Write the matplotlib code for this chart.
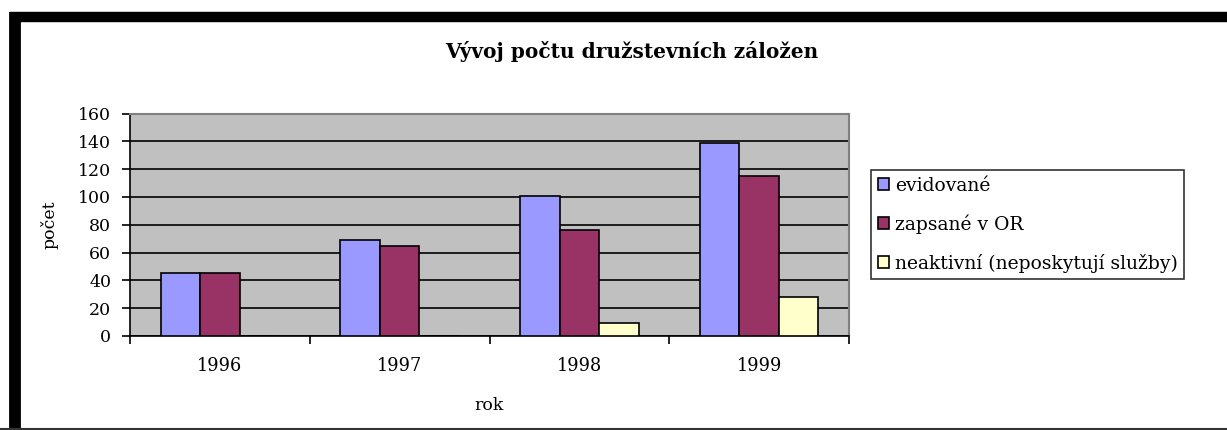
import matplotlib.pyplot as plt
import numpy as np
from matplotlib.lines import Line2D

roky = ['1996', '1997', '1998', '1999']
evidovane = [45, 69, 101, 139]
zapsane = [45, 65, 76, 115]
neaktivni = [0, 0, 9, 28]

plt.rcParams['font.family'] = ['DejaVu Serif']

fig = plt.figure(figsize=(12.27, 4.30), dpi=100)
ax = fig.add_axes([130 / 1227, 1 - 336 / 430, 719 / 1227, (336 - 113.5) / 430])
ax.set_facecolor('#C0C0C0')

x = np.arange(len(roky))
w = 0.22
serie = [(evidovane, '#9999FF', 'evidované'),
         (zapsane, '#993366', 'zapsané v OR'),
         (neaktivni, '#FFFFCC', 'neaktivní (neposkytují služby)')]
for i, (vals, barva, nazev) in enumerate(serie):
    ax.bar(x + (i - 1) * w, vals, w, color=barva, edgecolor='black',
           linewidth=1.2, label=nazev, zorder=3)

ax.set_xlim(-0.5, 3.5)
ax.set_ylim(0, 160)
ax.set_yticks(range(0, 161, 20))
ax.yaxis.grid(True, color='black', linewidth=1.2, zorder=1)
ax.set_axisbelow(True)

ax.set_xticks(x)
ax.set_xticklabels(roky, fontsize=12.8)
ax.tick_params(axis='x', length=0, pad=15)
ax.set_xticks(np.arange(-0.5, 4, 1), minor=True)
ax.tick_params(axis='x', which='minor', length=6, direction='out', width=1.2)
ax.tick_params(axis='y', labelsize=12.5, direction='out', length=5.5, width=1.2, pad=8)

for s in ['top', 'right']:
    ax.spines[s].set_color('#808080')
    ax.spines[s].set_linewidth(1.5)
for s in ['left', 'bottom']:
    ax.spines[s].set_color('black')
    ax.spines[s].set_linewidth(1.2)

ax.set_xlabel('rok', fontsize=12.5, labelpad=16)
ax.set_ylabel('počet', fontsize=12.5, labelpad=14)

fig.text(632 / 1227, 1 - 51 / 430, 'Vývoj počtu družstevních záložen',
         ha='center', va='center', fontsize=14.5, fontweight='bold')

leg = ax.legend(loc='center left', bbox_to_anchor=(1.031, 0.5), fontsize=13.5,
                frameon=True, fancybox=False, edgecolor='black',
                handlelength=0.6, handleheight=0.6, handletextpad=0.3,
                borderaxespad=0, labelspacing=1.05, borderpad=0.35)
leg.get_frame().set_linewidth(1.2)

# černý rámeček kolem grafu
fig.add_artist(Line2D([15.5 / 1227, 15.5 / 1227], [0, 1 - 12 / 430],
                      color='black', linewidth=8.5, solid_capstyle='butt'))
fig.add_artist(Line2D([10 / 1227, 1], [1 - 17 / 430, 1 - 17 / 430],
                      color='black', linewidth=7.5, solid_capstyle='butt'))
fig.add_artist(Line2D([0, 1], [1.5 / 430, 1.5 / 430],
                      color='#333333', linewidth=1.5))

fig.savefig('out.png', dpi=100)
